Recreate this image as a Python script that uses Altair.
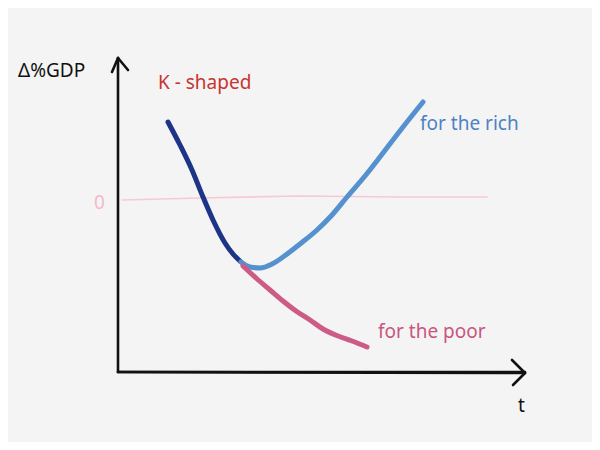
import altair as alt
import pandas as pd

decline_t = [168, 180, 192, 203, 213, 225, 233, 241]
decline_y = [76, 53, 28, 1, -22, -45, -56, -64]
rich_t = [241, 250, 260, 272, 283, 300, 317, 332, 347, 365, 383, 403, 423]
rich_y = [-64, -69, -70, -66, -59, -46, -32, -17, 1, 22, 45, 71, 96]
poor_t = [243, 256, 270, 283, 296, 310, 323, 338, 352, 367]
poor_y = [-68, -80, -92, -103, -113, -122, -131, -138, -143, -149]
zero_t = [122, 200, 300, 400, 487]
zero_y = [-2, 0, 2, 1, 1]

# hand-drawn axes (segments: t, y, t2, y2)
axis_t = [118, 118, 118, 118, 118, 525, 525]
axis_y = [-174, 140, 140, -174, -174, -175, -175]
axis_t2 = [118, 112, 128, 525, 525, 512, 513]
axis_y2 = [140, 126, 128, -174, -175, -162, -187]

label_text = ["Δ%GDP", "K - shaped", "for the rich", "for the poor", "0", "t"]
label_t = [18, 158, 420, 378, 94, 518]
label_y = [127, 115, 74, -134, -5, -208]
label_group = ["axis", "title", "rich", "poor", "zero", "axis"]

series_names = ["decline", "rich", "poor", "zero"]
series_colors = ["#1d3587", "#5590cf", "#cc5b86", "#f6c9d6"]

rows = []
for name, ts, ys in [("decline", decline_t, decline_y), ("rich", rich_t, rich_y),
                     ("poor", poor_t, poor_y), ("zero", zero_t, zero_y)]:
    for i, (t, y) in enumerate(zip(ts, ys)):
        rows.append({"series": name, "t": t, "y": y, "order": i})
curves = pd.DataFrame(rows)
axes = pd.DataFrame({"t": axis_t, "y": axis_y, "t2": axis_t2, "y2": axis_y2})
labels = pd.DataFrame({"text": label_text, "t": label_t, "y": label_y, "group": label_group})

xs = alt.Scale(domain=[8, 592], nice=False, zero=False)
ys = alt.Scale(domain=[-244, 190], nice=False, zero=False)
X = alt.X("t:Q", scale=xs, axis=None)
Y = alt.Y("y:Q", scale=ys, axis=None)

zero_line = alt.Chart(curves[curves.series == "zero"]).mark_line(
    strokeWidth=1.6, color="#f6c9d6", strokeCap="round"
).encode(x=X, y=Y, order="order:Q")

main_lines = alt.Chart(curves[curves.series != "zero"]).mark_line(
    strokeWidth=5, strokeCap="round", strokeJoin="round", interpolate="monotone"
).encode(
    x=X, y=Y, order="order:Q",
    color=alt.Color("series:N", scale=alt.Scale(domain=series_names, range=series_colors), legend=None),
    detail="series:N",
)

axis_rules = alt.Chart(axes).mark_rule(strokeWidth=2.6, color="#111111", strokeCap="round").encode(
    x=X, y=Y, x2="t2:Q", y2="y2:Q"
)

text_layer = alt.Chart(labels).mark_text(
    align="left", baseline="middle", font="Noto Sans", fontSize=19
).encode(
    x=X, y=Y, text="text:N",
    color=alt.Color("group:N", scale=alt.Scale(
        domain=["axis", "title", "rich", "poor", "zero"],
        range=["#111111", "#c8352f", "#4d82c4", "#c9567f", "#f4b9c9"]), legend=None),
)

chart = alt.layer(zero_line, main_lines, axis_rules, text_layer).resolve_scale(
    color="independent"
).properties(
    width=584, height=434, autosize="none", padding=0, background="#f4f4f4"
).configure_view(stroke=None)

chart.save("out.html", embed_options={"renderer": "svg", "actions": False})
